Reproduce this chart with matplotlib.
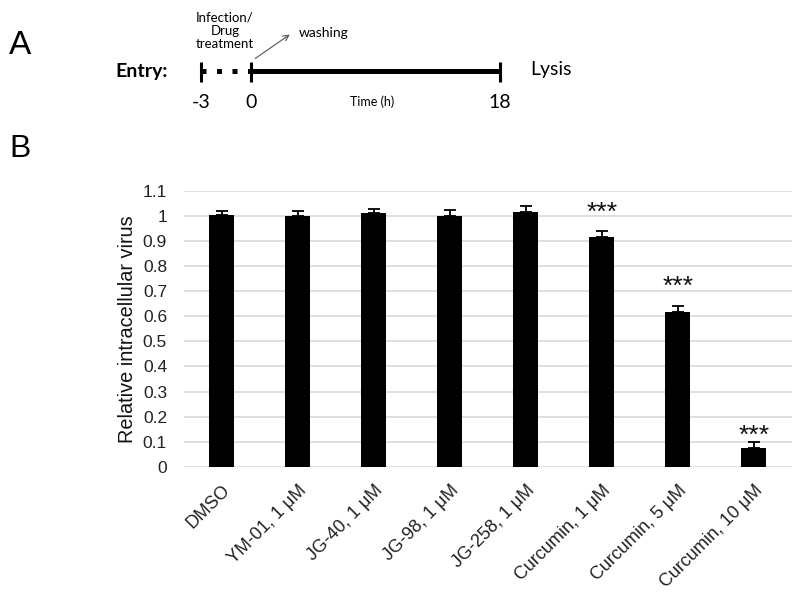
import numpy as np
import matplotlib
matplotlib.use("Agg")
import matplotlib.pyplot as plt

# Data (panel B)
categories = ["DMSO", "YM-01, 1 μM", "JG-40, 1 μM", "JG-98, 1 μM", "JG-258, 1 μM",
              "Curcumin, 1 μM", "Curcumin, 5 μM", "Curcumin, 10 μM"]
values = [1.004, 0.999, 1.012, 1.000, 1.016, 0.917, 0.617, 0.076]
errors = [0.017, 0.021, 0.018, 0.025, 0.025, 0.024, 0.023, 0.023]
star_idx = [5, 6, 7]
star_y = [0.985, 0.688, 0.097]
yticks = [0, 0.1, 0.2, 0.3, 0.4, 0.5, 0.6, 0.7, 0.8, 0.9, 1.0, 1.1]
ytick_labels = ["0", "0.1", "0.2", "0.3", "0.4", "0.5", "0.6", "0.7", "0.8", "0.9", "1", "1.1"]

# Panel A timeline labels
time_labels = ["-3", "0", "18"]

plt.rcParams['font.family'] = ['Liberation Sans', 'DejaVu Sans']

W, H = 800, 594
fig = plt.figure(figsize=(W / 100, H / 100), dpi=100)

# ---- Panel B: bar chart ----
ax = fig.add_axes([183.7 / W, 1 - 466.7 / H, 608 / W, (466.7 - 191) / H])
x = np.arange(len(categories))
ax.bar(x, values, width=0.33, color='black', zorder=3)
ax.errorbar(x, values, yerr=[np.zeros(len(errors)), errors], fmt='none',
            ecolor='black', elinewidth=1.3, capsize=4, capthick=1.3, zorder=4)

for i, sy in zip(star_idx, star_y):
    ax.text(x[i], sy, "***", ha='center', va='baseline', fontsize=19, color='#111111')

ax.set_xlim(-0.5, len(categories) - 0.5)
ax.set_ylim(0, 1.1)
ax.set_yticks(yticks)
ax.set_yticklabels(ytick_labels, fontsize=12.5, color='#222222')
ax.set_xticks(x)
ax.set_xticklabels(categories, rotation=45, ha='right', rotation_mode='anchor',
                   fontsize=13, color='#222222')
ax.tick_params(axis='both', length=0)
ax.tick_params(axis='y', pad=12)
ax.tick_params(axis='x', pad=11)
ax.grid(axis='y', color='#d9d9d9', linewidth=1.2)
ax.set_axisbelow(True)
for s in ax.spines.values():
    s.set_visible(False)
ax.set_ylabel("Relative intracellular virus", fontsize=14.3, labelpad=4, color='#111111')

# ---- Panel A: schematic timeline ----
axA = fig.add_axes([0, 0, 1, 1], zorder=-1)
axA.set_xlim(0, W)
axA.set_ylim(H, 0)
axA.axis('off')

fig.text(20 / W, 1 - 45 / H, "A", fontsize=24, ha='center', va='center')
fig.text(20 / W, 1 - 149 / H, "B", fontsize=23, ha='center', va='center')

cal = ['Lato', 'DejaVu Sans']
axA.text(142, 72, "Entry:", fontsize=14, fontweight='bold', family=cal, ha='center', va='center')

line_y = 71
tick_x = [201, 251, 500]
axA.plot([251, 500], [line_y, line_y], color='black', lw=3.6, solid_capstyle='butt')
axA.plot([201, 251], [line_y, line_y], color='black', lw=3.6, linestyle=(0, (1, 2.1)),
         dash_capstyle='butt')
for tx in tick_x:
    axA.plot([tx, tx], [62, 82], color='black', lw=2.2, solid_capstyle='butt')
for tx, lab in zip(tick_x, time_labels):
    axA.text(tx, 102, lab, fontsize=14, family=cal, ha='center', va='center')

axA.text(372, 102, "Time (h)", fontsize=9, family=cal, ha='center', va='center')
axA.text(551, 70, "Lysis", fontsize=14, family=cal, ha='center', va='center')
axA.text(225, 31, "Infection/\nDrug\ntreatment", fontsize=9.5, family=cal,
         ha='center', va='center', linespacing=1.15)
axA.annotate("", xy=(292, 33), xytext=(253, 60),
             arrowprops=dict(arrowstyle='->', color='#555555', lw=0.8))
axA.text(299, 33, "washing", fontsize=10, family=cal, ha='left', va='center')

fig.savefig("out.png", dpi=100)
